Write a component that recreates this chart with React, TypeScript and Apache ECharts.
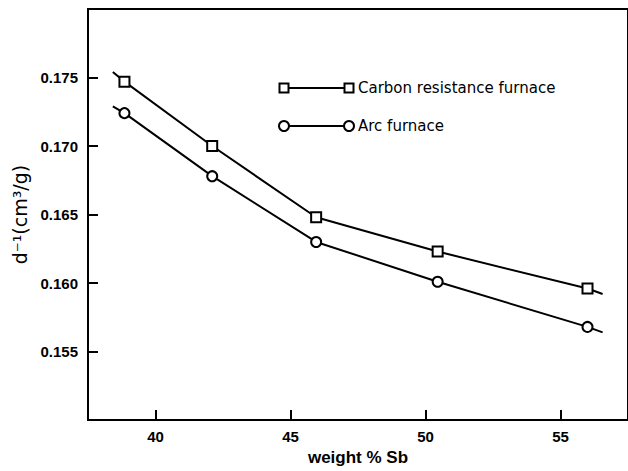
import React, { useEffect, useRef } from "react";
import * as echarts from "echarts";

const seriesNames = ["Carbon resistance furnace", "Arc furnace"];
const weightSb = [38.85, 42.1, 45.95, 50.45, 56.0];
const carbonD = [0.1747, 0.17, 0.1648, 0.1623, 0.1596];
const arcD = [0.1724, 0.1678, 0.163, 0.1601, 0.1568];
// fitted-line stubs drawn beyond the first and last measured points
const stubX = [38.42, 56.56];
const carbonStub = [0.1754, 0.1592];
const arcStub = [0.1729, 0.1564];
const xTicks = [40, 45, 50, 55];

function buildData(xs: number[], ys: number[], stub: number[]) {
  const pts: any[] = [];
  pts.push({ value: [stubX[0], stub[0]], symbol: "none" });
  xs.forEach((x, i) => pts.push({ value: [x, ys[i]] }));
  pts.push({ value: [stubX[1], stub[1]], symbol: "none" });
  return pts;
}

export default function App() {
  const ref = useRef<HTMLDivElement>(null);
  useEffect(() => {
    document.body.style.margin = "0";
    const chart = echarts.init(ref.current!, null, { renderer: "svg" });
    const tickFont = { fontFamily: "Liberation Sans", fontSize: 15, fontWeight: "bold" as const, color: "#000" };
    const legendRows = [
      { y: 88, symbol: "rect" },
      { y: 126, symbol: "circle" },
    ];
    const graphic: any[] = [];
    legendRows.forEach((r, i) => {
      graphic.push({
        type: "line",
        shape: { x1: 284, y1: r.y, x2: 349, y2: r.y },
        style: { stroke: "#000", lineWidth: 2 },
      });
      [284, 349].forEach((cx) => {
        if (r.symbol === "rect") {
          graphic.push({
            type: "rect",
            shape: { x: cx - 4.5, y: r.y - 4.5, width: 9, height: 9 },
            style: { fill: "#fff", stroke: "#000", lineWidth: 2 },
          });
        } else {
          graphic.push({
            type: "circle",
            shape: { cx, cy: r.y, r: 5 },
            style: { fill: "#fff", stroke: "#000", lineWidth: 2 },
          });
        }
      });
      graphic.push({
        type: "text",
        x: 358,
        y: r.y,
        style: {
          text: seriesNames[i],
          fontFamily: "DejaVu Sans",
          fontSize: 15,
          fill: "#000",
          verticalAlign: "middle",
          align: "left",
        },
      });
    });

    chart.setOption({
      animation: false,
      backgroundColor: "#fff",
      grid: {
        left: 88,
        top: 9,
        bottom: 49,
        right: -6,
        show: true,
        borderColor: "#000",
        borderWidth: 2,
        backgroundColor: "transparent",
      },
      xAxis: {
        type: "value",
        min: 37.5,
        max: 57.5,
        name: "weight % Sb",
        nameLocation: "middle",
        nameGap: 28,
        nameTextStyle: { fontFamily: "Liberation Sans", fontSize: 17, fontWeight: "bold", color: "#000" },
        axisLine: { lineStyle: { color: "#000", width: 2 } },
        axisTick: { inside: true, length: 10, lineStyle: { color: "#000", width: 2 }, customValues: xTicks },
        axisLabel: { ...tickFont, margin: 9, customValues: xTicks },
        splitLine: { show: false },
      },
      yAxis: {
        type: "value",
        min: 0.15,
        max: 0.18,
        interval: 0.005,
        name: "d⁻¹(cm³/g)",
        nameLocation: "middle",
        nameGap: 56,
        nameTextStyle: { fontFamily: "DejaVu Sans", fontSize: 19, color: "#000" },
        axisLine: { lineStyle: { color: "#000", width: 2 } },
        axisTick: { inside: true, length: 10, lineStyle: { color: "#000", width: 2 } },
        axisLabel: {
          ...tickFont,
          margin: 10,
          showMinLabel: false,
          showMaxLabel: false,
          formatter: (v: number) => v.toFixed(3),
        },
        splitLine: { show: false },
      },
      graphic,
      series: [
        {
          name: seriesNames[0],
          type: "line",
          data: buildData(weightSb, carbonD, carbonStub),
          symbol: "rect",
          symbolSize: 10,
          lineStyle: { color: "#000", width: 2 },
          itemStyle: { color: "#fff", borderColor: "#000", borderWidth: 2 },
          z: 3,
        },
        {
          name: seriesNames[1],
          type: "line",
          data: buildData(weightSb, arcD, arcStub),
          symbol: "circle",
          symbolSize: 10,
          lineStyle: { color: "#000", width: 2 },
          itemStyle: { color: "#fff", borderColor: "#000", borderWidth: 2 },
          z: 3,
        },
      ],
    });
    return () => chart.dispose();
  }, []);
  return <div ref={ref} style={{ width: 628, height: 471 }} />;
}
